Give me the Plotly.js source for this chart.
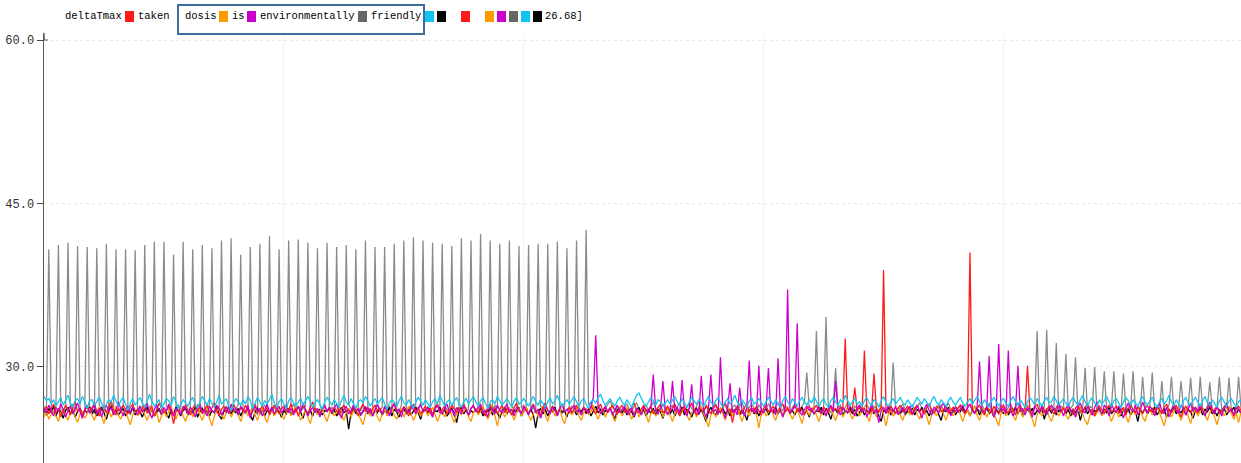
<!DOCTYPE html>
<html>
<head>
<meta charset="utf-8">
<script src="https://cdn.plot.ly/plotly-3.0.1.min.js"></script>
<style>html,body{margin:0;padding:0;background:#fff;}#chart{width:1241px;height:463px;}</style>
</head>
<body>
<div id="chart"></div>
<script>
// ---- data ----
const legendTitle = 'deltaTmax';
const seriesNames = ['taken', 'is', 'environmentally', 'friendly', '', ''];
const legendTail = '26.68]';
const yTickVals = [30, 45, 60];
const yTickText = ['30.0', '45.0', '60.0'];
const xGridVals = [100, 200, 300, 400];

const friendly = [
26.4,26.0,40.8,26.3,25.8,26.5,41.2,26.1,25.7,26.4,41.4,26.2,26.6,25.9,41.1,26.3,25.6,26.0,41.0,26.4,
26.1,25.7,40.9,26.5,26.2,25.8,41.3,26.0,26.6,26.3,40.8,25.9,26.2,26.5,40.8,26.1,25.6,26.3,40.7,26.0,
26.4,26.1,41.2,25.8,26.3,26.6,41.5,26.2,25.9,26.0,41.5,26.4,26.1,25.7,40.3,26.2,26.5,26.0,41.5,26.3,
25.9,26.3,40.8,26.0,26.5,26.2,41.2,25.8,26.1,26.6,40.9,26.3,25.9,26.2,41.6,26.0,26.4,26.1,41.8,25.8,
26.2,26.5,40.3,26.1,25.7,26.3,41.0,26.4,26.0,25.6,41.3,26.2,26.5,26.1,42.0,25.9,26.3,26.0,40.8,26.4,
26.1,25.8,41.6,26.3,26.6,26.0,41.7,25.9,26.2,26.4,41.4,26.1,25.5,26.2,40.9,26.5,26.0,26.3,41.4,25.9,
26.3,26.0,41.0,26.4,25.8,26.1,41.2,26.5,26.2,25.9,40.8,26.3,26.0,26.4,41.6,26.1,25.7,26.2,41.0,26.5,
26.0,26.3,41.0,25.9,26.4,26.1,41.3,26.2,25.8,26.5,41.6,26.0,26.3,26.1,41.9,25.8,26.2,26.4,41.6,26.0,
26.3,25.9,41.4,26.2,26.5,26.0,41.3,26.4,26.1,25.7,41.1,26.3,26.0,26.2,41.8,26.5,25.9,26.1,41.6,26.3,
26.0,26.4,42.2,26.1,25.8,26.3,41.6,26.0,26.5,26.2,41.3,25.9,26.3,26.0,41.6,26.4,26.1,25.8,41.1,26.2,
26.5,26.1,41.2,25.9,26.3,26.0,41.3,26.4,26.2,25.8,41.3,26.1,26.4,26.0,41.5,26.3,25.9,26.2,40.9,26.0,
26.4,26.1,41.6,26.3,25.9,26.2,42.6,26.5,26.8,26.3,26.0,26.4,26.1,25.8,26.2,26.5,26.9,26.3,26.0,26.4,
26.2,25.8,26.3,26.6,26.1,25.9,26.4,26.7,26.2,25.7,26.3,26.5,26.0,26.4,26.8,26.2,25.9,26.3,26.6,26.1,
25.8,26.2,26.5,26.0,26.4,26.7,26.1,25.8,26.3,26.6,26.2,25.9,26.4,26.8,26.3,26.0,26.5,26.2,25.7,26.3,
26.6,26.1,25.9,26.4,26.7,26.2,25.8,26.3,26.5,26.0,26.4,26.8,26.1,25.9,26.3,26.6,26.2,26.0,26.5,26.2,
25.9,26.3,26.6,26.1,25.8,26.4,26.7,26.2,26.0,26.5,26.1,25.7,26.3,26.6,26.2,25.9,26.4,26.8,29.5,26.3,
26.0,26.4,33.3,26.2,25.9,26.3,34.6,26.1,25.8,26.4,29.9,26.2,26.5,26.0,26.3,26.7,26.1,25.8,26.4,26.2,
26.5,26.0,26.3,26.6,26.1,25.7,26.4,26.2,25.9,26.5,26.2,26.0,26.4,26.1,30.4,26.3,25.9,26.2,26.6,26.1,
25.8,26.3,26.5,26.0,26.4,26.7,26.2,25.9,26.3,26.6,26.1,25.8,26.4,26.2,26.5,26.0,26.3,26.7,26.1,25.9,
26.4,26.1,26.5,26.2,25.8,26.3,26.6,26.0,26.4,26.2,25.9,26.5,26.1,26.3,26.7,26.2,25.8,26.4,26.1,26.5,
26.2,25.9,26.3,26.6,26.0,26.4,26.7,26.1,25.8,26.3,26.5,26.2,26.0,26.4,33.3,26.1,25.9,26.3,33.4,26.0,
26.3,26.1,32.2,25.9,26.4,26.2,31.2,26.0,26.3,26.5,30.9,26.1,25.8,26.3,29.9,26.0,26.4,26.2,30.0,25.9,
26.2,26.4,29.6,26.0,25.8,26.3,29.6,26.1,26.4,26.0,29.4,26.2,25.9,26.3,29.6,26.0,26.4,26.1,29.1,26.2,
25.9,26.3,29.5,26.1,26.4,26.0,28.7,25.8,26.2,26.5,29.1,26.1,25.9,26.3,28.7,26.2,26.0,26.4,29.0,26.1,
26.3,25.9,29.1,26.2,26.0,26.4,28.6,26.1,25.8,26.3,29.1,26.0,26.4,26.2,29.0,25.9,26.3,26.1,29.1,26.2
];

const taken = [
25.9,26.4,25.7,26.1,26.6,25.8,26.2,25.4,26.0,26.5,26.1,25.6,26.3,26.8,25.9,26.2,25.5,26.0,26.4,25.8,
26.2,26.7,25.9,25.5,26.1,26.4,25.8,26.3,26.9,26.0,25.6,26.2,25.9,26.5,26.1,25.7,26.3,26.6,25.9,26.1,
25.7,26.2,26.5,25.8,26.0,26.4,25.5,26.1,26.7,26.2,25.8,26.0,26.4,25.9,24.8,25.9,26.3,25.7,26.1,26.5,
26.0,25.6,26.2,26.6,25.9,26.3,25.7,26.1,26.5,25.8,26.2,26.7,26.0,25.5,26.1,26.4,25.8,26.2,25.9,26.6,
26.1,25.7,26.3,25.9,26.5,26.0,25.4,26.2,26.6,25.8,26.1,26.4,25.9,26.3,25.6,26.0,26.5,26.1,25.7,26.2,
26.4,25.9,26.1,26.6,25.8,26.2,25.5,26.0,26.4,26.1,25.7,26.3,26.8,25.9,26.2,25.6,26.1,26.5,25.9,26.2,
25.8,26.3,26.0,25.6,26.2,26.5,25.9,26.1,25.7,26.4,26.0,25.5,26.2,26.6,25.9,26.3,25.8,26.1,26.5,26.0,
26.2,25.7,26.4,26.0,25.6,26.3,26.7,25.9,26.1,25.8,26.4,26.0,25.5,26.2,26.6,25.9,26.3,25.7,26.1,26.4,
25.9,26.2,25.6,26.3,26.6,25.8,26.1,26.4,25.7,26.0,26.5,26.1,25.8,26.3,25.9,26.6,26.0,25.6,26.2,26.4,
26.1,25.8,26.4,26.0,25.5,26.2,26.6,25.9,26.3,25.7,26.1,26.5,25.8,26.2,26.0,25.6,26.3,26.7,26.0,25.8,
26.3,26.0,25.7,26.2,26.6,25.9,26.1,25.5,26.3,26.7,26.0,25.8,26.4,26.1,25.6,26.2,26.5,25.9,26.1,26.3,
25.8,26.2,26.5,26.0,25.6,26.3,26.1,25.9,26.4,26.0,25.7,26.2,26.6,25.9,26.3,25.8,26.1,26.5,26.0,25.7,
26.2,26.5,25.9,26.1,25.6,26.3,26.7,26.0,25.8,26.2,26.5,25.9,26.1,26.4,25.7,26.0,26.3,26.6,25.8,26.1,
26.4,25.9,26.2,26.6,26.0,25.5,26.1,26.4,25.8,26.2,26.7,26.0,25.6,26.3,26.1,25.9,26.4,26.0,25.7,26.2,
26.5,26.0,25.8,26.3,26.6,25.9,26.1,24.9,26.0,26.4,26.1,25.7,26.3,26.6,25.9,26.2,25.8,26.4,26.0,25.6,
26.2,26.5,25.9,26.1,26.4,25.8,26.0,26.3,26.6,25.9,26.2,25.7,26.1,26.5,25.9,26.3,26.0,25.6,26.2,26.4,
25.9,26.2,26.5,26.0,25.7,26.3,26.1,25.8,26.4,26.0,26.2,25.9,26.3,26.1,32.6,26.2,25.9,26.1,28.1,26.0,
26.3,25.8,31.5,26.1,25.7,26.0,29.4,26.2,25.9,26.3,38.9,26.1,25.8,26.4,26.0,25.7,26.2,26.5,25.9,26.1,
26.4,26.0,25.6,26.2,26.5,25.9,26.1,25.7,26.3,26.6,26.0,25.8,26.2,26.5,25.9,26.1,26.4,25.8,26.0,26.3,
25.9,26.2,26.5,26.0,25.7,26.3,40.5,26.1,25.8,26.2,26.5,26.0,25.6,26.3,26.1,25.8,26.4,26.0,25.7,26.2,
26.5,26.0,25.8,26.3,26.1,25.6,26.2,26.5,25.9,26.1,30.1,26.0,25.7,26.3,26.6,25.9,26.2,25.8,26.1,26.4,
26.0,25.7,26.3,26.6,25.9,26.2,25.8,26.4,26.1,25.6,26.2,26.5,26.0,25.8,26.3,26.6,25.9,26.1,25.5,26.2,
26.4,26.0,25.7,26.2,26.5,25.9,26.1,26.4,25.8,26.0,26.3,25.6,26.2,26.6,26.0,25.8,26.3,26.1,25.7,26.2,
26.5,25.9,26.2,25.8,26.4,26.1,25.7,26.3,26.6,26.0,25.8,26.2,26.5,25.9,25.4,26.1,26.4,26.0,25.8,26.3,
26.1,25.8,26.4,26.0,25.6,26.2,26.5,25.9,26.1,26.4,25.8,26.0,26.3,26.6,25.9,26.2,25.5,26.1,26.4,26.0
];

const environmentally = [
26.2,25.8,26.5,26.0,25.5,26.3,25.9,26.6,26.1,25.4,26.0,26.4,25.7,26.2,26.7,25.9,25.3,26.1,26.5,25.8,
26.0,26.6,25.7,26.2,25.4,26.1,26.5,25.9,26.3,25.6,26.0,26.8,26.2,25.5,26.1,26.4,25.8,26.3,26.0,25.6,
26.4,25.9,26.2,26.7,25.8,25.3,26.1,26.5,26.0,25.7,26.3,25.9,26.6,26.1,25.5,26.2,26.0,25.6,26.4,26.1,
25.7,26.3,26.0,25.4,26.2,26.6,25.9,26.1,25.5,26.4,26.0,25.8,26.5,26.2,25.6,26.0,26.3,25.7,26.6,26.0,
26.2,25.6,26.4,26.1,25.8,26.5,25.3,26.0,26.4,25.9,26.2,25.5,26.1,26.6,25.9,26.3,25.7,26.0,26.4,25.8,
26.1,26.5,25.8,26.2,25.6,26.0,26.4,25.9,26.7,26.1,25.5,26.0,26.3,25.8,26.2,25.4,26.1,26.5,25.9,26.3,
25.8,26.2,26.6,25.9,25.3,26.1,26.4,25.7,26.0,26.5,25.9,26.2,25.6,26.0,26.4,25.8,26.2,25.5,26.1,26.6,
26.0,25.7,26.3,26.1,25.5,26.2,26.6,25.9,26.1,25.4,26.3,26.0,25.8,26.5,26.1,25.7,26.2,26.6,25.9,26.0,
26.3,25.9,25.4,26.1,26.5,26.0,25.7,26.2,26.6,25.8,26.1,25.5,26.3,26.0,25.7,26.4,26.1,25.6,26.2,26.5,
25.9,26.2,26.6,25.8,26.0,25.4,26.3,26.1,25.7,26.5,26.0,25.8,26.2,26.6,25.9,26.1,25.5,26.3,26.0,25.7,
26.4,26.0,25.6,26.2,26.5,25.8,26.1,25.3,26.0,26.4,26.1,25.7,26.3,26.0,25.5,26.2,26.6,25.9,26.1,25.8,
26.2,26.5,25.9,26.1,25.6,26.3,26.0,25.8,26.4,27.2,32.9,26.4,25.7,26.1,26.4,25.9,26.2,25.6,26.0,26.5,
25.8,26.1,26.4,25.7,26.0,26.3,25.5,26.2,26.0,25.6,26.3,26.1,25.8,26.4,29.3,26.0,25.7,26.2,28.7,26.1,
25.6,26.0,28.7,25.9,26.3,25.7,28.8,26.0,25.5,26.2,28.4,25.8,26.1,25.6,29.2,26.0,25.4,26.2,29.3,25.9,
26.1,25.6,30.9,26.0,25.3,26.2,28.5,25.8,26.1,25.6,28.1,26.0,25.5,26.3,30.6,25.9,26.2,25.7,30.1,26.0,
25.8,26.2,29.9,25.9,26.1,25.6,30.8,26.0,25.4,26.2,37.1,25.8,26.1,26.3,34.0,25.9,25.6,26.1,26.4,26.0,
26.2,25.7,26.0,26.4,25.8,26.1,25.5,26.2,26.5,25.9,28.7,26.0,25.6,26.3,26.0,25.8,26.4,26.1,25.5,26.2,
26.5,25.9,26.2,25.4,26.0,26.6,25.8,26.1,24.9,26.0,26.3,25.7,26.5,26.1,25.9,26.4,25.6,26.0,26.3,25.8,
26.1,26.4,25.7,26.0,26.5,25.9,25.3,26.2,26.6,26.0,25.6,26.3,26.1,25.8,26.4,26.7,25.9,26.2,25.5,26.0,
26.3,25.8,26.1,26.5,25.9,26.2,26.6,26.0,25.7,26.3,30.5,26.1,25.8,26.2,31.0,26.0,25.4,26.3,32.1,25.9,
26.2,25.7,31.5,26.0,25.5,26.1,30.1,25.9,26.2,25.6,26.3,26.0,25.4,26.4,26.1,25.8,26.5,26.0,25.6,26.2,
26.5,26.1,25.8,26.7,26.0,25.5,26.2,26.6,25.9,26.1,25.4,26.3,26.7,26.0,25.8,26.4,26.1,25.6,26.3,26.8,
26.0,25.7,26.5,26.2,25.5,26.6,26.1,25.8,26.4,26.0,25.3,26.2,26.7,26.1,25.9,26.5,25.6,26.0,26.8,26.2,
25.8,26.4,26.1,25.5,26.2,26.7,26.0,25.7,26.3,25.4,26.1,26.6,26.0,25.8,26.5,26.2,25.6,26.1,26.7,25.9,
26.3,25.9,26.6,26.0,25.5,26.2,26.8,26.1,25.7,26.4,26.0,25.5,26.3,26.7,25.9,26.1,25.6,26.4,26.0,25.8
];

const is = [
25.4,25.9,25.2,25.7,26.1,25.5,25.0,25.8,26.2,25.6,25.1,25.9,26.3,25.4,24.9,25.7,26.0,25.3,25.8,26.2,
25.6,25.1,25.9,26.3,25.5,24.8,25.7,26.1,25.4,25.9,26.4,25.6,25.2,25.8,26.1,25.3,24.7,25.6,26.0,25.5,
25.9,26.3,25.6,25.1,25.7,26.2,25.5,25.8,24.9,25.6,26.1,25.4,25.9,26.4,25.7,25.2,25.8,26.1,25.5,25.0,
25.7,26.2,25.4,25.9,26.5,25.6,25.1,25.8,26.2,25.3,24.6,25.5,25.9,26.3,25.7,25.2,25.8,26.1,25.4,25.9,
26.2,25.6,25.0,25.7,26.1,25.5,25.9,26.4,25.6,25.1,25.8,26.2,25.4,24.9,25.7,26.0,25.5,25.9,26.3,25.6,
25.2,25.8,26.1,25.5,25.9,26.4,25.7,25.1,25.6,26.0,25.4,24.8,25.7,26.2,25.6,25.9,26.3,25.5,25.0,25.8,
26.1,25.5,25.9,26.3,25.6,25.1,25.8,26.2,25.4,25.9,26.4,25.7,25.2,24.7,25.6,26.0,25.5,25.9,26.2,25.4,
25.0,25.7,26.1,25.5,25.9,26.3,25.6,25.2,25.8,26.2,25.4,25.9,26.4,25.7,25.1,25.6,26.0,25.5,25.8,26.1,
25.5,25.9,26.3,25.7,25.0,25.6,26.1,25.4,25.8,26.2,25.5,24.9,25.7,26.1,25.6,25.9,26.3,25.4,25.0,25.8,
26.2,25.6,25.9,26.4,25.7,25.2,25.8,26.1,25.5,24.6,25.6,26.0,25.4,25.9,26.3,25.7,25.1,25.8,26.2,25.5,
25.9,26.3,25.6,25.1,25.7,26.0,25.4,25.9,26.4,25.6,25.0,25.8,26.1,25.5,25.9,26.2,25.3,24.8,25.7,26.1,
25.6,25.9,26.3,25.5,25.1,25.8,26.2,25.6,25.9,26.5,25.7,25.2,25.8,26.1,25.4,25.9,26.3,25.6,25.0,25.7,
26.1,25.5,25.9,26.3,25.7,25.2,25.8,26.1,25.4,25.9,26.4,25.6,24.9,25.7,26.0,25.5,25.9,26.2,25.4,25.8,
26.2,25.6,25.0,25.7,26.1,25.5,25.9,26.3,25.6,25.1,25.8,26.2,25.4,25.9,26.4,25.7,25.2,24.5,25.6,26.0,
25.4,25.9,26.3,25.7,25.1,25.8,26.2,25.5,25.9,26.4,25.6,25.0,25.7,26.1,25.5,25.9,26.3,25.6,24.4,25.7,
26.1,25.5,25.9,26.2,25.6,25.1,25.8,26.3,25.4,25.9,26.4,25.7,25.2,25.8,26.1,25.5,24.8,25.7,26.0,25.6,
25.9,26.3,25.6,25.0,25.7,26.1,25.5,25.9,26.4,25.6,25.1,25.8,26.2,25.4,25.9,26.3,25.7,25.2,25.8,26.1,
25.5,25.9,26.3,25.6,25.0,25.8,26.2,25.4,25.9,26.4,25.6,24.6,25.7,26.1,25.5,25.9,26.2,25.6,25.1,25.8,
26.2,25.6,25.9,26.3,25.7,25.2,25.8,26.1,25.4,24.7,25.6,26.0,25.5,25.9,26.4,25.7,25.1,25.8,26.2,25.5,
25.9,26.3,25.6,25.0,25.7,26.1,25.5,25.9,26.4,25.6,25.1,25.8,26.2,25.4,25.9,26.3,25.7,25.2,24.6,25.8,
26.1,25.5,25.9,26.3,25.6,25.1,25.8,26.2,25.4,25.9,26.4,25.7,25.2,24.5,25.6,26.0,25.5,25.9,26.2,25.4,
25.0,25.7,26.1,25.5,25.9,26.3,25.6,25.2,25.8,26.2,25.4,25.9,26.4,25.7,25.1,24.7,25.6,26.0,25.5,25.8,
26.1,25.5,25.9,26.3,25.7,25.0,25.6,26.1,25.4,25.8,26.2,25.5,24.9,25.7,26.1,25.6,25.9,26.3,25.4,25.0,
25.8,26.2,25.6,25.9,26.4,25.7,25.2,24.6,25.6,26.0,25.4,25.9,26.3,25.7,25.1,25.8,26.2,25.5,24.8,25.7,
26.1,25.5,25.9,26.3,25.6,25.1,25.8,26.2,25.4,24.7,25.6,26.0,25.5,25.9,26.4,25.7,25.2,25.8,24.9,25.9
];

const cyanSeries = [
27.3,26.9,27.1,26.6,27.0,26.4,26.8,27.2,26.5,26.9,27.4,26.7,26.3,26.9,27.1,26.6,27.3,26.8,26.2,26.9,
27.0,26.5,26.8,27.3,26.7,26.1,26.6,27.0,26.8,27.4,26.9,26.4,26.9,27.2,26.6,26.0,26.7,27.1,26.5,26.8,
27.2,26.7,26.3,26.9,27.5,26.8,26.4,26.7,27.0,26.2,26.6,27.1,26.9,26.5,27.3,26.8,26.1,26.6,27.0,26.7,
26.4,26.9,27.2,26.6,26.2,26.8,27.3,26.9,26.5,27.1,26.7,26.3,26.8,27.4,26.6,26.9,27.1,26.4,26.0,26.7,
27.1,26.8,26.5,27.0,26.6,27.3,26.9,26.2,26.7,27.2,26.8,26.4,26.9,26.6,27.0,27.5,26.7,26.3,26.8,27.1,
26.6,26.2,26.9,27.2,26.7,26.4,26.8,27.1,26.5,26.9,27.3,26.8,26.3,26.7,27.0,26.6,26.1,26.8,27.2,26.9,
26.5,27.0,26.7,26.3,26.9,27.4,26.8,26.5,27.1,26.6,26.2,26.8,27.0,26.7,27.3,26.9,26.4,26.8,27.1,26.6,
26.9,27.2,26.6,26.1,26.7,27.0,26.8,26.4,26.9,27.3,26.7,26.5,27.0,26.6,26.2,26.8,27.2,26.9,26.5,27.0,
26.7,26.3,26.8,27.1,26.6,27.4,26.9,26.4,26.8,27.0,26.5,26.9,27.2,26.7,26.3,26.8,27.1,26.6,26.9,27.3,
26.8,26.4,26.9,27.2,26.7,26.2,26.8,27.0,26.6,27.3,26.9,26.5,26.8,27.1,26.7,26.3,26.9,27.2,26.6,26.8,
27.1,26.7,26.4,26.9,27.3,26.8,26.5,27.0,26.7,26.3,26.8,27.2,26.6,26.9,27.4,26.8,26.4,26.7,27.0,26.6,
26.9,27.3,26.8,26.4,26.9,27.1,26.6,26.2,26.8,27.0,26.7,27.2,27.5,26.9,26.5,26.8,27.1,26.7,26.4,26.9,
27.2,26.8,26.5,27.0,26.7,26.3,26.9,27.4,27.6,27.1,26.7,26.4,26.8,27.2,26.9,26.5,27.0,26.8,26.4,26.7,
27.0,26.6,26.9,27.3,26.8,26.5,27.1,26.7,26.3,26.8,27.2,26.9,26.6,27.0,26.7,26.4,26.9,27.3,26.8,26.5,
26.9,27.2,26.7,26.3,26.8,27.1,26.6,26.9,27.4,26.8,26.5,27.0,26.7,26.3,26.9,27.2,26.6,26.8,27.1,26.7,
26.4,26.8,27.2,26.9,26.5,27.0,26.7,26.3,26.9,27.3,26.8,26.5,27.1,26.7,26.4,26.9,27.2,26.8,26.5,27.0,
26.7,27.3,26.9,26.4,26.8,27.1,26.6,26.3,26.9,27.2,26.8,26.5,27.0,26.7,27.4,26.9,26.5,26.8,27.1,26.6,
26.8,26.4,26.9,27.2,26.7,26.5,27.0,26.8,26.3,26.9,27.3,26.7,26.4,26.8,27.1,26.6,26.9,27.2,26.7,26.5,
27.0,26.7,26.3,26.8,27.2,26.9,26.6,27.1,26.7,26.4,26.9,27.3,26.8,26.5,27.0,26.7,26.4,26.9,27.2,26.8,
26.5,26.9,27.2,26.7,26.4,26.8,27.1,26.6,26.9,27.3,26.8,26.5,27.0,26.7,26.3,26.9,27.2,26.8,26.4,26.9,
27.1,26.7,26.4,26.9,27.3,26.8,26.5,27.0,26.6,26.3,26.8,27.2,26.9,26.5,27.1,26.7,26.4,26.9,27.2,26.7,
26.8,27.3,26.9,26.5,26.8,27.1,26.7,26.4,26.9,27.2,26.8,26.5,27.0,27.4,26.8,26.4,26.9,27.2,26.7,26.5,
27.0,26.6,26.9,27.3,26.8,26.4,26.9,27.1,26.7,26.3,26.8,27.2,26.9,26.5,27.0,26.7,26.4,26.9,27.3,26.8,
26.5,26.9,27.2,26.7,26.3,26.8,27.1,26.6,26.9,27.4,26.8,26.5,27.0,26.6,26.3,26.9,27.2,26.7,26.5,26.9,
27.2,26.8,26.4,26.9,27.3,26.7,26.5,27.0,26.6,26.3,26.9,27.2,26.8,26.4,26.9,27.1,26.7,26.3,26.8,27.0
];

const blackSeries = [
26.0,25.6,26.2,25.8,26.4,25.5,26.1,25.9,25.3,26.0,26.3,25.7,26.1,25.4,25.9,26.2,25.6,26.0,25.8,26.3,
25.7,26.1,25.5,25.9,26.3,25.8,25.2,26.0,26.4,25.7,26.1,25.6,25.9,26.2,25.5,26.0,25.8,26.3,25.6,26.1,
25.9,25.4,26.0,26.3,25.7,26.1,25.5,25.9,26.2,25.6,26.0,25.8,25.3,26.1,25.7,26.3,25.9,25.5,26.0,26.2,
25.6,26.0,25.8,26.3,25.4,25.9,26.2,25.7,26.1,25.5,26.0,25.8,26.4,25.6,25.2,26.0,25.9,26.3,25.7,26.1,
25.8,26.2,25.5,26.0,25.9,26.3,25.6,25.1,25.9,26.2,25.7,26.1,25.5,26.0,25.8,26.3,25.6,26.1,25.9,25.4,
26.0,25.7,26.2,25.6,26.0,25.9,26.4,25.8,25.3,26.1,25.7,26.0,25.5,26.2,25.8,26.1,25.6,26.0,25.9,26.3,
25.7,26.1,25.5,25.9,26.3,25.8,26.0,24.3,25.8,26.2,25.7,26.1,25.6,25.9,26.3,25.7,26.0,25.5,26.1,25.8,
26.2,25.6,26.0,25.8,26.3,25.5,26.1,25.9,25.4,26.0,26.2,25.7,26.1,25.6,25.9,26.3,25.8,25.2,26.0,26.1,
25.8,26.2,25.6,26.0,25.9,26.3,25.7,26.1,25.5,25.9,26.2,25.8,24.9,26.0,26.3,25.7,26.1,25.6,26.0,25.8,
26.1,25.7,26.2,25.5,26.0,25.9,26.3,25.6,26.1,25.8,25.3,26.0,26.2,25.7,26.1,25.6,26.0,25.9,26.3,25.5,
25.9,26.3,25.7,26.1,25.6,24.4,25.8,26.2,25.7,26.1,25.5,26.0,25.9,26.3,25.6,26.1,25.8,26.0,25.4,26.2,
25.7,26.1,25.6,26.0,25.9,26.3,25.7,26.2,25.5,25.9,26.4,25.8,26.1,25.6,26.0,25.9,26.3,25.7,25.2,26.1,
26.0,25.8,26.2,25.6,26.1,25.9,25.4,26.0,26.3,25.7,26.1,25.5,26.0,25.8,26.2,25.6,26.1,25.9,25.3,26.0,
26.2,25.7,26.1,25.5,26.0,25.8,26.3,25.6,26.1,25.9,25.4,26.0,26.2,25.7,26.1,25.6,25.0,25.9,26.3,25.8,
25.6,26.1,25.8,26.2,25.7,26.0,25.5,26.1,25.9,26.3,25.6,26.0,25.8,25.1,26.0,26.2,25.7,26.1,25.5,26.0,
25.9,26.2,25.6,26.0,25.8,26.3,25.7,26.1,25.5,25.9,26.2,25.8,26.0,25.6,26.1,25.9,26.3,25.7,26.0,25.4,
26.1,25.7,26.0,25.9,26.3,25.6,26.2,25.8,25.2,26.0,26.1,25.7,26.2,25.6,26.0,25.8,26.3,25.7,26.1,25.5,
25.9,26.2,25.6,26.0,25.8,26.3,25.7,26.1,25.5,25.0,26.0,25.9,26.3,25.6,26.1,25.8,26.0,25.7,26.2,25.6,
26.0,25.8,26.2,25.6,26.1,25.9,26.3,25.7,26.0,25.5,26.1,25.8,26.2,25.6,25.1,26.0,25.9,26.3,25.7,26.1,
25.6,26.0,25.9,26.3,25.7,26.1,25.5,26.0,25.8,26.2,25.6,26.1,25.9,26.3,25.7,26.0,25.4,26.1,25.8,26.2,
25.7,26.1,25.6,26.0,25.9,26.3,25.7,26.2,25.5,25.9,26.1,25.8,26.2,25.6,26.0,25.8,26.3,25.2,26.0,26.1,
25.8,26.2,25.6,26.0,25.9,26.3,25.7,26.1,25.5,26.0,25.8,26.2,25.1,25.9,26.3,25.7,26.1,25.6,26.0,25.9,
26.2,25.6,26.1,25.8,26.3,25.7,26.0,25.9,26.2,25.5,26.1,25.8,26.2,25.6,26.0,25.9,25.0,26.1,25.8,26.2,
25.7,26.1,25.9,26.3,25.6,26.0,25.8,26.2,25.4,26.1,25.9,26.3,25.7,26.0,25.8,26.2,25.6,26.1,25.9,25.3,
26.0,25.8,26.2,25.6,26.1,25.9,26.3,25.7,26.0,25.5,26.1,25.8,26.2,25.6,26.0,25.9,26.3,25.7,26.1,25.8
];

const seriesColors = ['#ff1a1a', '#ff9900', '#cc00cc', '#8a8a8a', '#11c6ee', '#000000'];
const legendSquareColors = ['#ff1a1a', '#ff9900', '#cc00cc', '#666666', '#11c6ee', '#000000'];

// ---- layout helpers (pixel -> paper) ----
const W = 1241, H = 463, ML = 44, MR = 0, MT = 35, MB = 0;
const PW = W - ML - MR, PH = H - MT - MB;
const px = v => (v - ML) / PW;
const py = v => (H - MB - v) / PH;

const xIdx = friendly.map((_, i) => i);
const allSeries = [taken, is, environmentally, friendly, cyanSeries, blackSeries];
const drawOrder = [3, 5, 1, 0, 2, 4];

const traces = drawOrder.map(k => ({
  type: 'scatter', mode: 'lines', x: xIdx, y: allSeries[k],
  name: seriesNames[k] || ('s' + k),
  line: {color: seriesColors[k], width: 1.3},
  hoverinfo: 'skip', showlegend: false
}));

const legendFont = {family: 'Liberation Mono, Courier New, monospace', size: 10.5, color: '#000'};
const textItems = [
  [legendTitle, 63], [seriesNames[0], 136], ['dosis', 183], [seriesNames[1], 230],
  [seriesNames[2], 258], [seriesNames[3], 369], [legendTail, 543]
];
const annotations = textItems.map(([t, x]) => ({
  text: t, xref: 'paper', yref: 'paper', x: px(x), y: py(16.5),
  xanchor: 'left', yanchor: 'middle', showarrow: false, font: legendFont
}));

const squareX = [[125,0],[219,1],[247,2],[358,3],[425,4],[437,5],[461,0],[485,1],[497,2],[509,3],[521,4],[533,5]];
const shapes = squareX.map(([x, c]) => ({
  type: 'rect', xref: 'paper', yref: 'paper',
  x0: px(x), x1: px(x + 9), y0: py(22), y1: py(11),
  fillcolor: legendSquareColors[c], line: {width: 0}
}));
shapes.push({
  type: 'rect', xref: 'paper', yref: 'paper',
  x0: px(178), x1: px(424), y0: py(34), y1: py(5),
  fillcolor: 'rgba(0,0,0,0)', line: {color: '#3f6e9e', width: 2}
});
shapes.push({
  type: 'line', xref: 'paper', yref: 'paper',
  x0: px(44), x1: px(44), y0: py(40), y1: py(33),
  line: {color: '#555', width: 1.5}
});
shapes.push({
  type: 'line', xref: 'paper', yref: 'paper',
  x0: px(44), x1: px(48), y0: py(40), y1: py(40),
  line: {color: '#555', width: 1}
});

const layout = {
  width: W, height: H,
  margin: {l: ML, r: MR, t: MT, b: MB, pad: 0},
  paper_bgcolor: '#ffffff', plot_bgcolor: '#ffffff',
  showlegend: false,
  xaxis: {
    range: [0, xIdx.length - 1], showline: false, zeroline: false,
    showgrid: true, gridcolor: '#f2f2f2', gridwidth: 1,
    tickvals: xGridVals, showticklabels: false, ticks: ''
  },
  yaxis: {
    range: [21.19, 60.46], showline: true, linecolor: '#555', linewidth: 1.5,
    zeroline: false, showgrid: true, gridcolor: '#ebebeb', griddash: 'dot',
    tickvals: yTickVals, ticktext: yTickText, ticks: 'outside', ticklen: 6,
    tickcolor: '#444', tickwidth: 1,
    tickfont: {family: 'Liberation Mono, Courier New, monospace', size: 12, color: '#333'}
  },
  annotations: annotations,
  shapes: shapes
};

Plotly.newPlot('chart', traces, layout, {staticPlot: true, displayModeBar: false});
</script>
</body>
</html>
